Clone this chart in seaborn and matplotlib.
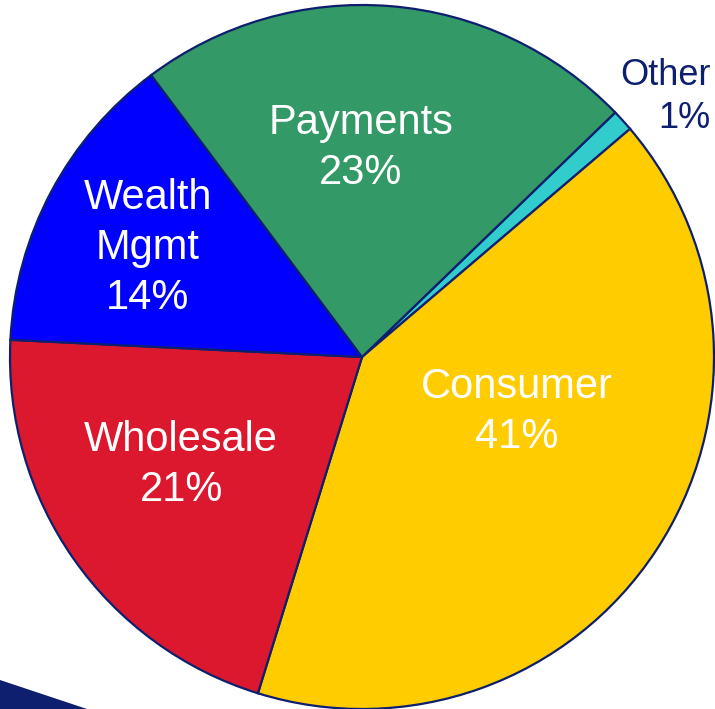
import matplotlib
matplotlib.use('Agg')
import matplotlib.pyplot as plt
import seaborn as sns
from matplotlib.patches import Polygon

# segment shares, in clockwise order starting from the small "Other" slice
segments = ['Other', 'Consumer', 'Wholesale', 'Wealth\nMgmt', 'Payments']
shares = [1, 41, 21, 14, 23]
colors = ['#33CCCC', '#FFCC00', '#DC182E', '#0000FF', '#339966']
text_colors = ['#0D1F6E', 'white', 'white', 'white', 'white']
label_pos = [(0.991, 0.739), (0.44, -0.156), (-0.514, -0.307), (-0.608, 0.31), (-0.003, 0.594)]
label_ha = ['right', 'center', 'center', 'center', 'center']
label_size = [26, 30, 30, 30, 30]

sns.set_theme(style='white')
plt.rcParams['font.family'] = ['Liberation Sans', 'DejaVu Sans']

fig = plt.figure(figsize=(7.15, 7.09), dpi=100)
ax = fig.add_axes([0, 0, 1, 1])

wedges, _ = ax.pie(shares, colors=colors, startangle=44, counterclock=False,
                   wedgeprops=dict(edgecolor='#0D1F6E', linewidth=1.6))

for name, pct, pos, c, ha, fs in zip(segments, shares, label_pos, text_colors, label_ha, label_size):
    ax.text(pos[0], pos[1], f'{name}\n{pct}%', ha=ha, va='center', multialignment=ha,
            color=c, fontsize=fs, linespacing=1.32)

ax.set_xlim(-1.0284, 1.0028)
ax.set_ylim(-1.0, 1.0142)
ax.set_aspect('equal')
ax.axis('off')

# dark swoosh in the bottom-left corner
fig.patches.append(Polygon([(0, 29 / 709), (87 / 715, 0), (0, 0)], closed=True,
                           transform=fig.transFigure, facecolor='#0D1F6E',
                           edgecolor='none'))

fig.savefig('out.png', dpi=100)
